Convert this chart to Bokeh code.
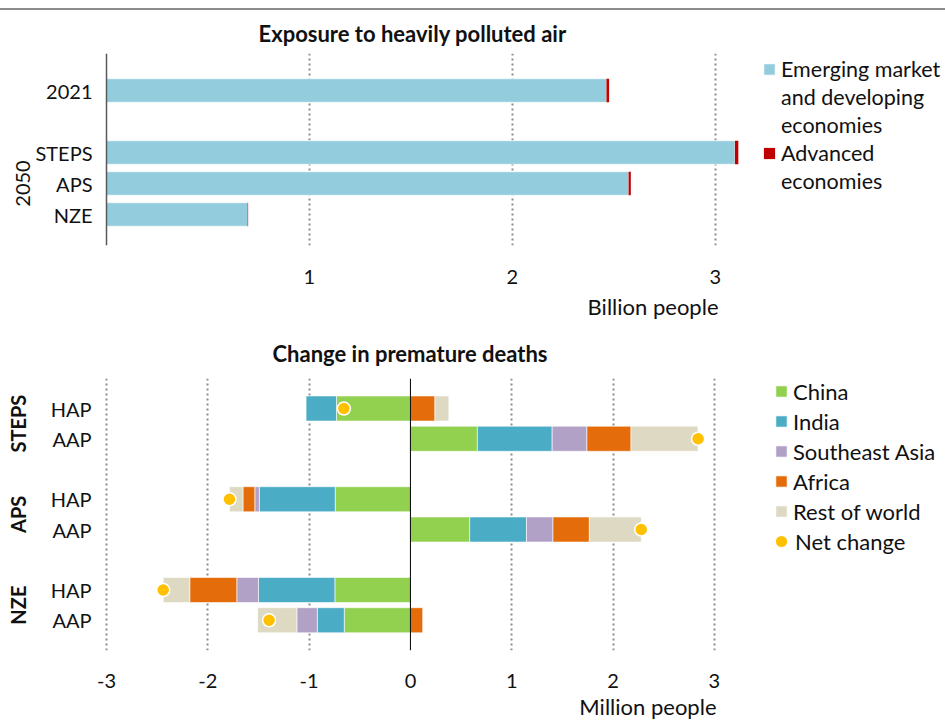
import numpy as np
from bokeh.plotting import figure
from bokeh.models import (Range1d, FixedTicker, Legend, LegendItem, Span, Title,
                          ColumnDataSource, Div, LinearAxis)
from bokeh.layouts import column
from bokeh.embed import file_html
from bokeh.resources import INLINE

FONT = "Lato"
TXT = "#111111"

# ---------------- data: exposure to heavily polluted air (billion people)
exp_cats = ["2021", "STEPS", "APS", "NZE"]
exp_emde = [2.464, 3.097, 2.573, 0.695]
exp_adv = [0.013, 0.017, 0.011, 0.003]
exp_group = "2050"
exp_ticks = [1, 2, 3]

# ---------------- data: change in premature deaths (million people)
scenarios = ["STEPS", "APS", "NZE"]
pollution = ["HAP", "AAP"]
regions = ["China", "India", "Southeast Asia", "Africa", "Rest of world"]
china = [-0.730, 0.661, -0.742, 0.585, -0.746, -0.653]
india = [-0.300, 0.738, -0.750, 0.560, -0.754, -0.266]
seasia = [0.000, 0.343, -0.044, 0.262, -0.214, -0.202]
africa = [0.242, 0.435, -0.117, 0.359, -0.464, 0.121]
rest = [0.137, 0.661, -0.133, 0.512, -0.262, -0.387]
net_change = [-0.657, 2.839, -1.786, 2.278, -2.440, -1.395]
death_ticks = [-3, -2, -1, 0, 1, 2, 3]

region_colors = ["#92D050", "#4BACC6", "#B2A1C7", "#E46C0A", "#DDD9C3"]
NET_COLOR = "#FFC000"
GRID = "#8c8c8c"
W = 945


def plain_axis(ax, size, standoff, bold=False):
    ax.axis_line_color = None
    ax.major_tick_in = 0
    ax.major_tick_out = 0
    ax.minor_tick_in = 0
    ax.minor_tick_out = 0
    ax.major_label_standoff = standoff
    ax.major_label_text_font = FONT
    ax.major_label_text_font_size = size
    ax.major_label_text_color = TXT
    if bold:
        ax.major_label_text_font_style = "bold"


def legend(items, loc, gw, gh, standoff, lh, spacing, size="22px"):
    return Legend(items=items, location=loc, orientation="vertical",
                  glyph_width=gw, glyph_height=gh, label_standoff=standoff,
                  label_height=lh, spacing=spacing, padding=0, margin=0,
                  border_line_color=None, background_fill_alpha=0,
                  label_text_font=FONT, label_text_font_size=size,
                  label_text_color=TXT)


def title(text, align, offset, valign, standoff, size, bold):
    return Title(text=text, align=align, offset=offset, vertical_align=valign,
                 standoff=standoff, text_font=FONT,
                 text_font_style="bold" if bold else "normal",
                 text_font_size=size, text_color=TXT)


# ======================= top chart =======================
exp_y = [i + (1 if i > 0 else 0) for i in range(len(exp_cats))]  # gap after 2021
exp_total = [a + b for a, b in zip(exp_emde, exp_adv)]
src1 = ColumnDataSource(dict(y=exp_y, emde=exp_emde, tot=exp_total))

p1 = figure(width=W, height=320, output_backend="svg", toolbar_location=None,
            x_range=Range1d(-0.0296, 4.135), y_range=Range1d(5.0, -1.194),
            min_border_left=100, min_border_right=0, min_border_top=43,
            min_border_bottom=85)
p1.outline_line_color = None

p1.xgrid.ticker = FixedTicker(ticks=exp_ticks)
p1.xgrid.grid_line_color = GRID
p1.xgrid.grid_line_dash = "2 3"
p1.xgrid.grid_line_width = 2
p1.ygrid.grid_line_color = None
p1.add_layout(Span(location=0, dimension="height", line_color="#595959", line_width=1.5))

r_emde = p1.hbar(y="y", left=0, right="emde", height=0.76, source=src1,
                 fill_color="#93CDDD", line_color="white", line_width=0.6)
r_adv = p1.hbar(y="y", left="emde", right="tot", height=0.76, source=src1,
                fill_color="#C00000", line_color=None)
dummy1 = p1.hbar(y=[], left=[], right=[], height=0.5, fill_alpha=0, line_alpha=0)

p1.xaxis.ticker = FixedTicker(ticks=exp_ticks)
plain_axis(p1.xaxis[0], "20px", 24)

p1.yaxis.ticker = FixedTicker(ticks=exp_y)
p1.yaxis.major_label_overrides = {y: c for y, c in zip(exp_y, exp_cats)}
plain_axis(p1.yaxis[0], "20px", 8)

grp1 = LinearAxis(ticker=FixedTicker(ticks=[exp_y[-2]]),
                  major_label_overrides={exp_y[-2]: exp_group},
                  major_label_orientation="vertical")
plain_axis(grp1, "20px", 2)
p1.add_layout(grp1, "left")

p1.add_layout(title("Exposure to heavily polluted air", "left", 158, "top", 10,
                    "22px", True), "above")
p1.add_layout(title("Billion people", "right", 227, "top", 12, "22px", False), "below")

p1.add_layout(legend([
    LegendItem(label="Emerging market", renderers=[r_emde]),
    LegendItem(label="and developing", renderers=[dummy1]),
    LegendItem(label="economies", renderers=[dummy1]),
    LegendItem(label="Advanced", renderers=[r_adv]),
    LegendItem(label="economies ", renderers=[dummy1]),
], (662, 51), 14, 14, 5, 26, 2, size="21.5px"))

# ======================= bottom chart =======================
death_y = [g * 3 + k for g in range(len(scenarios)) for k in range(len(pollution))]
death_labels = [pp for _ in scenarios for pp in pollution]
group_y = [g * 3 + 0.5 for g in range(len(scenarios))]

p2 = figure(width=W, height=395, output_backend="svg", toolbar_location=None,
            x_range=Range1d(-3.059, 5.281), y_range=Range1d(8.0, -0.992),
            min_border_left=100, min_border_right=0, min_border_top=48,
            min_border_bottom=75)
p2.outline_line_color = None

p2.xgrid.ticker = FixedTicker(ticks=[t for t in death_ticks if t != 0])
p2.xgrid.grid_line_color = GRID
p2.xgrid.grid_line_dash = "2 3"
p2.xgrid.grid_line_width = 2
p2.ygrid.grid_line_color = None

series = [china, india, seasia, africa, rest]
pos = np.zeros(len(death_y))
neg = np.zeros(len(death_y))
region_renderers = []
for name, vals, col in zip(regions, series, region_colors):
    v = np.array(vals, dtype=float)
    left = np.where(v >= 0, pos, neg + v)
    right = np.where(v >= 0, pos + v, neg)
    pos = pos + np.clip(v, 0, None)
    neg = neg + np.clip(v, None, 0)
    src = ColumnDataSource(dict(y=death_y, left=left, right=right))
    r = p2.hbar(y="y", left="left", right="right", height=0.83, source=src,
                fill_color=col, line_color="white", line_width=0.6)
    region_renderers.append(r)

p2.add_layout(Span(location=0, dimension="height", line_color="black", line_width=1))

net_src = ColumnDataSource(dict(x=net_change, y=death_y))
net_fill = p2.scatter(x="x", y="y", source=net_src, size=13, marker="circle",
                      fill_color=NET_COLOR, line_color=None)
p2.scatter(x="x", y="y", source=net_src, size=13, marker="circle",
           fill_color=NET_COLOR, line_color="white", line_width=1.5)

p2.xaxis.ticker = FixedTicker(ticks=death_ticks)
p2.xaxis.major_label_overrides = {t: str(t) for t in death_ticks}
plain_axis(p2.xaxis[0], "20px", 23)

p2.yaxis.ticker = FixedTicker(ticks=death_y)
p2.yaxis.major_label_overrides = {y: l for y, l in zip(death_y, death_labels)}
plain_axis(p2.yaxis[0], "20px", 9)

grp2 = LinearAxis(ticker=FixedTicker(ticks=group_y),
                  major_label_overrides={y: s for y, s in zip(group_y, scenarios)},
                  major_label_orientation="vertical")
plain_axis(grp2, "20px", 17, bold=True)
p2.add_layout(grp2, "left")

p2.add_layout(title("Change in premature deaths", "left", 172, "top", 19,
                    "22px", True), "above")
p2.add_layout(title("Million people", "right", 229, "bottom", 0, "22px", False), "below")

p2.add_layout(legend([LegendItem(label=n, renderers=[r])
                      for n, r in zip(regions, region_renderers)],
                     (674, 124), 14, 14, 5, 30, 0))
p2.add_layout(legend([LegendItem(label="Net change", renderers=[net_fill])],
                     (667, 94), 28, 30, 0, 30, 0))

rule = Div(text="", width=W, height=2, margin=(8, 0, 0, 0),
           styles={"background-color": "#8c8c8c"})

layout = column(rule, p1, p2, spacing=0)
open("out.html", "w").write(file_html(layout, INLINE))
